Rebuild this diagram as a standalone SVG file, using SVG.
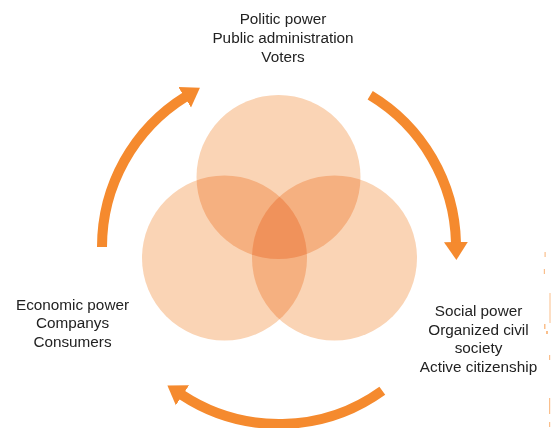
<svg xmlns="http://www.w3.org/2000/svg" width="551" height="428" viewBox="0 0 551 428">
<style>
.lbl{font-family:"Liberation Sans",Arial,sans-serif;font-size:15.3px;fill:#222;text-anchor:middle}
.arc{fill:none;stroke:#F58A2E;stroke-width:10;stroke-linecap:butt}
.c{fill:#FAD4B5;mix-blend-mode:multiply}
.frag{fill:#F58A2E;opacity:0.55}
</style>
<defs>
<marker id="ah" markerUnits="userSpaceOnUse" markerWidth="20" markerHeight="26" viewBox="-1 -13 20 26" refX="0" refY="0" orient="auto">
<path d="M-1,-12 L17,0 L-1,12 Z" fill="#F58A2E"/>
</marker>
</defs>
<rect width="551" height="428" fill="#fff"/>
<g id="venn" style="isolation:isolate">
<circle id="circle-politic" class="c" cx="278.5" cy="177" r="82"/>
<circle id="circle-economic" class="c" cx="224.5" cy="258" r="82.5"/>
<circle id="circle-social" class="c" cx="334.5" cy="258" r="82.5"/>
</g>
<g id="connectors">
<path class="arc" d="M102,247 A177,177 0 0 1 185.5,96.7" marker-end="url(#ah)"/>
<path class="arc" d="M370.2,95.3 A177,177 0 0 1 456,243" marker-end="url(#ah)"/>
<path class="arc" d="M382.3,390.7 A177,177 0 0 1 181.6,394.8" marker-end="url(#ah)"/>
</g>
<g id="node-politic">
<text class="lbl" x="283" y="24">Politic power</text>
<text class="lbl" x="283" y="43">Public administration</text>
<text class="lbl" x="283" y="62">Voters</text>
</g>
<g id="node-economic">
<text class="lbl" x="72.5" y="309.5">Economic power</text>
<text class="lbl" x="72.5" y="328">Companys</text>
<text class="lbl" x="72.5" y="346.5">Consumers</text>
</g>
<g id="node-social">
<text class="lbl" x="478.5" y="316">Social power</text>
<text class="lbl" x="478.5" y="334.5">Organized civil</text>
<text class="lbl" x="478.5" y="353">society</text>
<text class="lbl" x="478.5" y="371.5">Active citizenship</text>
</g>
<g id="edge-fragments">
<rect class="frag" x="544.5" y="252" width="1.2" height="5"/>
<rect class="frag" x="543.8" y="269" width="1.2" height="5"/>
<rect class="frag" x="549.5" y="293" width="1" height="30" opacity="0.25"/>
<rect class="frag" x="544" y="324" width="1.5" height="5"/>
<rect class="frag" x="546" y="331" width="2" height="3"/>
<rect class="frag" x="549" y="355" width="1.2" height="5"/>
<rect class="frag" x="549" y="398" width="1.2" height="16" opacity="0.35"/>
<rect class="frag" x="549" y="422" width="1.2" height="5"/>
</g>
</svg>
